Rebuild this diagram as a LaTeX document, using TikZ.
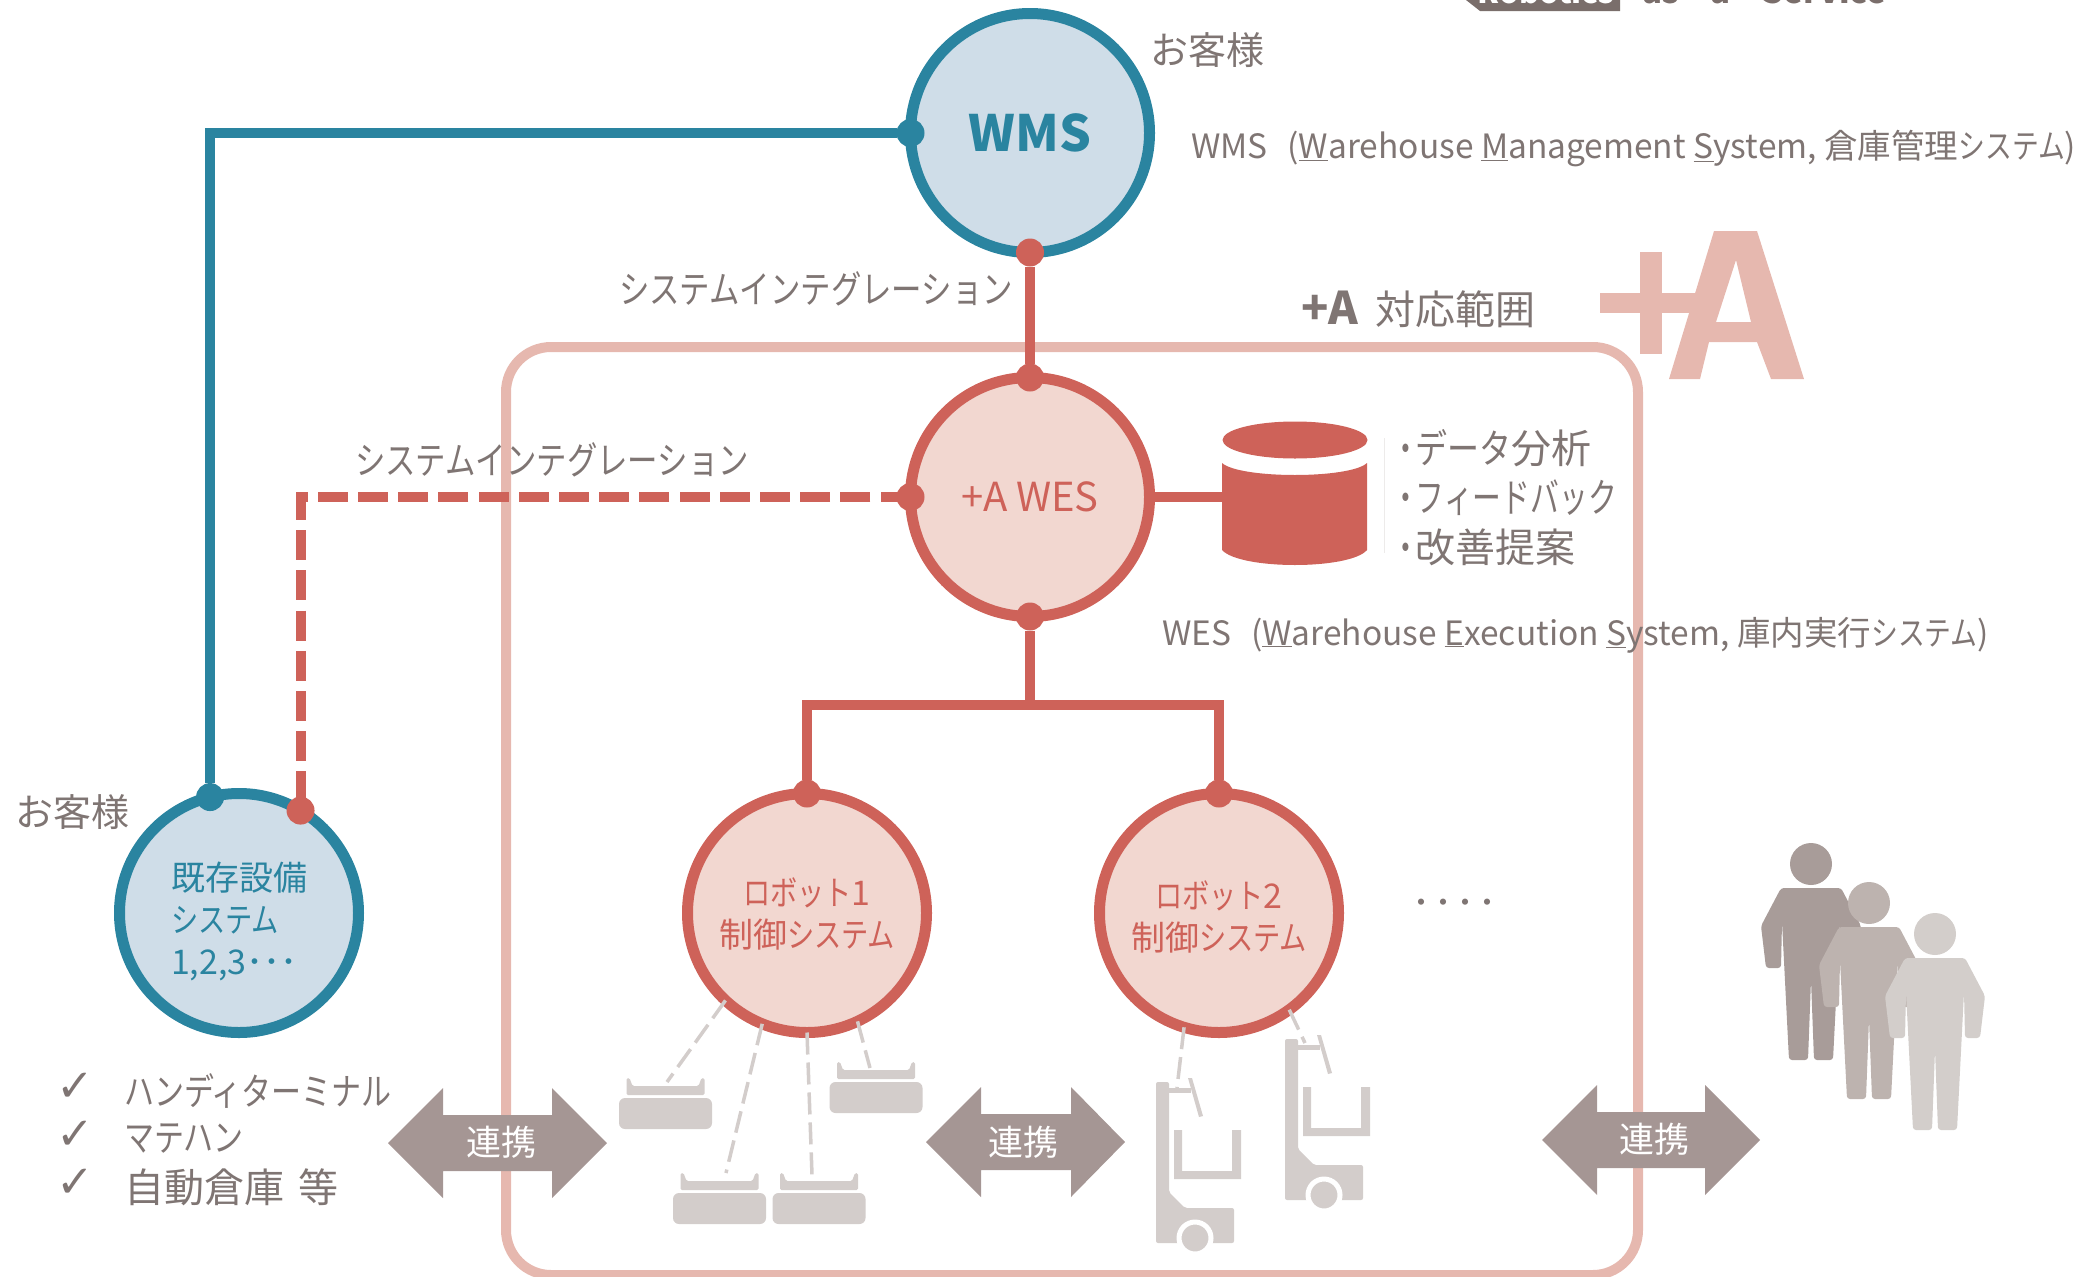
\documentclass[tikz,border=0pt]{standalone}
\usepackage{fontspec}
\setmainfont{Noto Sans CJK JP}
\newfontfamily\kn[FakeStretch=0.8]{Noto Sans CJK JP}
\newfontfamily\knn[FakeStretch=0.72]{Noto Sans CJK JP}
\newfontfamily\chk{DejaVu Sans}
\usetikzlibrary{calc}
\definecolor{blu}{HTML}{2A84A0}
\definecolor{blulight}{HTML}{CFDDE8}
\definecolor{rd}{HTML}{CE6259}
\definecolor{rdlight}{HTML}{F2D7D0}
\definecolor{frm}{HTML}{E6B8AF}
\definecolor{gry}{HTML}{7F7573}
\definecolor{tagc}{HTML}{7A6E6B}
\definecolor{arr}{HTML}{A59694}
\definecolor{pale}{HTML}{D3CDCB}
\definecolor{pa}{HTML}{A89C99}
\definecolor{pb}{HTML}{BDB3AF}
\definecolor{pc}{HTML}{D3CECB}
\newcommand{\fs}[1]{\fontsize{#1}{#1}\selectfont}
\newcommand{\fsl}[2]{\fontsize{#1}{#2}\selectfont}
\tikzset{
  x=1pt,y=-1pt,
  bub/.style={circle,draw,line width=11pt,minimum size=239pt,inner sep=0pt,outer sep=0pt,align=center},
  bubblue/.style={bub,draw=blu,fill=blulight,text=blu},
  bubred/.style={bub,draw=rd,fill=rdlight,text=rd},
  bubtext/.style={inner sep=0pt,outer sep=0pt,font=\fsl{34}{42}},
  dotblue/.style={circle,fill=blu,minimum size=28pt,inner sep=0pt,outer sep=0pt},
  dotred/.style={circle,fill=rd,minimum size=28pt,inner sep=0pt,outer sep=0pt},
  linkblue/.style={draw=blu,line width=10pt},
  linkred/.style={draw=rd,line width=10pt},
  linkdash/.style={draw=rd,line width=10pt,dash pattern=on 30pt off 10.2pt},
  faint/.style={draw=pale,line width=3.5pt,dash pattern=on 22pt off 8pt},
  lab/.style={text=gry,inner sep=0pt,outer sep=0pt},
  checkmark/.style={text=gry,inner sep=0pt,outer sep=0pt,font=\chk\fs{45}},
  dbl/.style={fill=arr,draw=none},
  pics/agv/.style={code={
    \fill[pale,rounded corners=6pt] (-46.5,0) rectangle (46.5,31);
    \fill[pale,rounded corners=1.5pt] (-39,-20) -- (-36,-20) -- (-33,-12) -- (33,-12) -- (36,-20) -- (39,-20) -- (39,-3) -- (-39,-3) -- cycle;
  }},
  pics/forklift/.style={code={
    \fill[pale,rounded corners=2pt] (0,0) -- (13,0) -- (13,110) -- (29,126) -- (78,126) -- (78,161) -- (0,161) -- cycle;
    \fill[pale] (13,6) -- (35,6) -- (35,11) -- (13,11) -- cycle;
    \fill[pale] (32,-4) -- (36,-4) -- (47,34) -- (43,35) -- cycle;
    \fill[pale] (18,48) -- (26,48) -- (26,89) -- (76,89) -- (76,48) -- (85,48) -- (85,97) -- (18,97) -- cycle;
    \fill[pale,draw=white,line width=5pt] (39,156) circle [radius=16pt];
  }},
  pics/person/.style={code={
    \fill[pic actions] (0,0) circle [radius=21pt];
    \fill[pic actions,rounded corners=3pt] (-30,24) -- (30,24) -- (50,62) -- (45,104) -- (30,104) -- (29,58) -- (22,196) -- (3,196) -- (0,116) -- (-3,196) -- (-22,196) -- (-29,58) -- (-30,104) -- (-45,104) -- (-50,62) -- cycle;
  }},
}
\begin{document}
\begin{tikzpicture}
\useasboundingbox (0,0) rectangle (2078,1277);
\begin{scope}
\clip (0,0) rectangle (2078,1277);

% top clipped banner
\fill[tagc] (1466,0) -- (1620,0) -- (1620,11) -- (1480,11) -- cycle;
\node[anchor=base,text=white,inner sep=0pt] (tagtext) at (1546,3) {\fs{31}\bfseries Robotics};
\node[anchor=base west,lab,text=tagc] (tagrest) at (1642,3) {\fs{33}\bfseries as\hspace{32pt}a\hspace{32pt}Service};

% range frame
\draw[frm,line width=10pt,rounded corners=45pt] (506,347) rectangle (1638,1275);

% +A logo
\fill[frm] (1640,252) rectangle (1662,354);
\fill[frm] (1600,293) rectangle (1697,313);
\fill[white] (1697,293) -- (1702,293) -- (1698,313) -- (1692,313) -- cycle;
\fill[frm,even odd rule] (1714,231) -- (1757,231) -- (1804,379) -- (1771,379) -- (1757,342) -- (1709,342) -- (1700,379) -- (1669,379) -- cycle
  (1736,260) -- (1751,322) -- (1716,322) -- cycle;

% bubbles
\node[bubblue] (WMS) at (1030,133) {\fs{50}\bfseries WMS};
\node[bubred] (WES) at (1030,497) {\fs{40}+A\hspace{8pt}WES};
\node[bubred] (R1) at (807,913) {};
\node[bubred] (R2) at (1219,913) {};
\node[bubblue] (EX) at (239,913) {};
\node[bubtext,text=rd] (r1t) at (807,918) {\begin{tabular}{@{}c@{}}{\kn ロボット}1\\制御{\kn システム}\end{tabular}};
\node[bubtext,text=rd] (r2t) at (1219,921) {\begin{tabular}{@{}c@{}}{\kn ロボット}2\\制御{\kn システム}\end{tabular}};
\node[bubtext,text=blu] (ext) at (239,924) {\begin{tabular}{@{}l@{}}既存設備\\{\kn システム}\\1,2,3･･･\end{tabular}};

% dots on the bubbles
\node[dotblue] (wmsw) at (WMS.west) {};
\node[dotred] (wmss) at (WMS.south) {};
\node[dotred] (wesn) at (WES.north) {};
\node[dotred] (wess) at (WES.south) {};
\node[dotred] (wesw) at (WES.west) {};
\node[dotred] (r1n) at (R1.north) {};
\node[dotred] (r2n) at (R2.north) {};
\node[dotblue] (exb) at (EX.104.5) {};
\node[dotred] (exr) at (EX.59.4) {};

% database
\node[minimum width=145pt,minimum height=145pt,inner sep=0pt,outer sep=0pt] (DB) at (1295,493) {};
\fill[rd] (1295,440) ellipse [x radius=72.5pt,y radius=18.5pt];
\fill[rd] (1222,463) .. controls (1240,479) and (1350,479) .. (1367,463) -- (1367,550) .. controls (1350,570) and (1240,570) .. (1222,550) -- cycle;
\draw[pale!40,line width=1pt] (1384,438) -- (1384,553);

% connectors
\coordinate (busc) at (1030,705);
\draw[linkred] (wmss) -- (wesn);
\draw[linkred] (WES.east) -- (WES.east -| DB.west);
\draw[linkred] (wess) -- (busc);
\draw[linkred] (r1n) |- (busc) -| (r2n);
\draw[linkblue] (wmsw) -| (exb);
\draw[linkdash] (wesw.center) -| (exr.center);

% texts
\node[lab,anchor=center] (t1) at (1207,50) {\fs{38}お客様};
\node[lab,anchor=center] (t2) at (73,812) {\fs{38}お客様};
\node[lab,anchor=west] (wmsd) at (1191,149) {\fs{33.5}WMS\hspace{20pt}(\underline{W}arehouse \underline{M}anagement \underline{S}ystem, 倉庫管理{\kn システム})};
\node[lab,anchor=west] (wesd) at (1162,635) {\fs{33.5}WES\hspace{20pt}(\underline{W}arehouse \underline{E}xecution \underline{S}ystem, 庫内実行{\kn システム})};
\node[lab] (si1) at (816,289) {\kn\fs{38}システムインテグレーション};
\node[lab] (si2) at (552,460) {\kn\fs{38}システムインテグレーション};
\node[lab,anchor=west] (range) at (1301,309) {\fs{40}{\bfseries\fs{45}+A}\hspace{17pt}対応範囲};
\node[lab,anchor=west] (an1) at (1391,448) {\fs{40}{\knn ・}\hspace{-4pt}{\kn データ}分析};
\node[lab,anchor=west] (an2) at (1391,498) {\fs{40}{\knn ・}\hspace{-4pt}{\knn フィードバック}};
\node[lab,anchor=west] (an3) at (1391,547) {\fs{40}{\knn ・}\hspace{-4pt}改善提案};

\node[lab] (more) at (1454,905) {\fs{22}\bfseries ・・・・};

\node[checkmark] (c1) at (75,1087) {✓};
\node[checkmark] (c2) at (75,1135) {✓};
\node[checkmark] (c3) at (75,1183) {✓};
\node[lab,anchor=west] (cc1) at (124,1091) {\kn\fs{37.5}ハンディターミナル};
\node[lab,anchor=west] (cc2) at (124,1139) {\kn\fs{37.5}マテハン};
\node[lab,anchor=west] (cc3) at (124,1187) {\fs{40}自動倉庫\hspace{14pt}等};

% double arrows
\fill[dbl] (388,1143) -- (443,1088) -- (443,1115) -- (552,1115) -- (552,1088) -- (607,1143) -- (552,1198) -- (552,1171) -- (443,1171) -- (443,1198) -- cycle;
\fill[dbl] (926,1142) -- (981,1087) -- (981,1114) -- (1071,1114) -- (1071,1087) -- (1125,1142) -- (1071,1197) -- (1071,1170) -- (981,1170) -- (981,1197) -- cycle;
\fill[dbl] (1542,1140) -- (1597,1085) -- (1597,1112) -- (1705,1112) -- (1705,1085) -- (1760,1140) -- (1705,1195) -- (1705,1168) -- (1597,1168) -- (1597,1195) -- cycle;
\node[text=white,inner sep=0pt] (l1) at (501,1142) {\fs{35}連携};
\node[text=white,inner sep=0pt] (l2) at (1023,1142) {\fs{35}連携};
\node[text=white,inner sep=0pt] (l3) at (1654,1139) {\fs{35}連携};

% robots
\pic at (665.5,1098) {agv};
\pic at (719.5,1193) {agv};
\pic at (819,1193) {agv};
\pic at (876,1082) {agv};
\pic at (1156,1082) {forklift};
\pic at (1285,1039) {forklift};
\coordinate (a1) at (667,1082);
\coordinate (a2) at (726,1173);
\coordinate (a3) at (812,1175);
\coordinate (a4) at (870,1068);
\coordinate (f1) at (1177,1088);
\coordinate (f2) at (1305,1043);
\draw[faint] (R1.227) -- (a1);
\draw[faint] (R1.-112) -- (a2);
\draw[faint] (R1.-90) -- (a3);
\draw[faint] (R1.-65) -- (a4);
\draw[faint] (R2.-107) -- (f1);
\draw[faint] (R2.-54) -- (f2);

% people
\pic[fill=pa] at (1811,864) {person};
\pic[fill=pb] at (1869,903) {person};
\pic[fill=pc] at (1935,934) {person};
\end{scope}
\end{tikzpicture}
\end{document}
